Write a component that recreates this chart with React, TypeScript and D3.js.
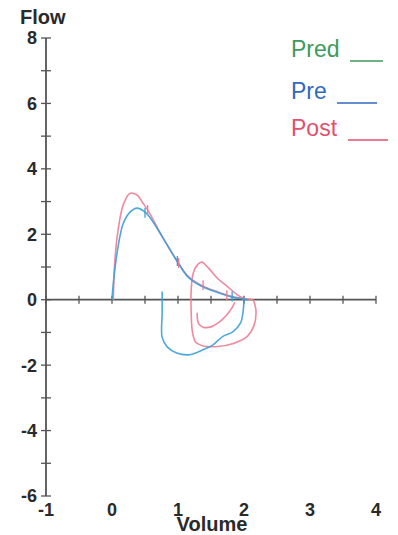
import React, { useEffect, useRef } from 'react';
import * as d3 from 'd3';

// volume (L), flow (L/s)
const preExp: [number, number][] = [
  [0.0, 0], [0.02, 0.5], [0.09, 1.6], [0.17, 2.33], [0.27, 2.67], [0.38, 2.8], [0.5, 2.68],
  [0.58, 2.5], [0.77, 1.9], [0.98, 1.2], [1.15, 0.7], [1.35, 0.42], [1.6, 0.22],
  [1.82, 0.08], [2.0, 0.02], [2.05, 0]
];
const preInsp: [number, number][] = [
  [2.0, 0], [1.99, -0.3], [1.95, -0.7], [1.83, -0.98], [1.68, -1.12], [1.53, -1.38],
  [1.38, -1.53], [1.18, -1.68], [0.98, -1.63], [0.84, -1.45], [0.76, -1.15], [0.76, -0.4], [0.76, 0.25]
];
const postExp: [number, number][] = [
  [0.02, 0], [0.04, 1.1], [0.09, 2.1], [0.17, 2.9], [0.27, 3.25], [0.38, 3.2], [0.47, 2.95],
  [0.56, 2.68], [0.77, 1.9], [0.98, 1.2], [1.15, 0.72], [1.35, 0.44], [1.6, 0.24],
  [1.85, 0.08], [2.05, 0.02], [2.14, 0]
];
const postInsp: [number, number][] = [
  [2.14, 0], [2.18, -0.3], [2.15, -0.8], [2.05, -1.12], [1.85, -1.33], [1.6, -1.43],
  [1.4, -1.42], [1.27, -1.3], [1.22, -1.0], [1.2, -0.4], [1.2, 0.3], [1.23, 0.8],
  [1.3, 1.08], [1.36, 1.15], [1.47, 0.95], [1.6, 0.65], [1.75, 0.4], [1.9, 0.15], [2.02, 0.02]
];
const postInner: [number, number][] = [
  [1.29, -0.4], [1.31, -0.72], [1.38, -0.84], [1.5, -0.83], [1.63, -0.68],
  [1.74, -0.46], [1.82, -0.24], [1.86, -0.08]
];
const preMarks: [number, number][] = [[0.5, 2.66], [0.99, 1.18], [1.82, 0.1]];
const postMarks: [number, number][] = [[0.54, 2.74], [1.01, 1.12], [1.38, 0.44], [1.74, 0.14]];

const xTicks = d3.range(-1, 4.01, 0.5);
const xLabels = [-1, 0, 1, 2, 3, 4];
const yTicks = d3.range(-6, 8.01, 1);
const yLabels = [8, 6, 4, 2, 0, -2, -4, -6];

const legend = [
  { name: 'Pred', color: '#3d9a5c', line: [350, 383] },
  { name: 'Pre', color: '#3069c0', line: [337, 377] },
  { name: 'Post', color: '#e2506f', line: [348, 388] },
];

export default function App() {
  const ref = useRef<SVGSVGElement>(null);

  useEffect(() => {
    document.body.style.margin = '0';
    const svg = d3.select(ref.current);
    svg.selectAll('*').remove();

    const x = d3.scaleLinear().domain([-1, 4]).range([46, 376]);
    const y = d3.scaleLinear().domain([-6, 8]).range([496, 38]);
    const font = 'Arial, "Liberation Sans", sans-serif';
    const axisColor = '#555';

    // axes
    svg.append('line')
      .attr('x1', x(-1)).attr('x2', x(-1)).attr('y1', y(8)).attr('y2', y(-6))
      .attr('stroke', axisColor).attr('stroke-width', 1.8);
    svg.append('line')
      .attr('x1', x(-1)).attr('x2', x(4)).attr('y1', y(0)).attr('y2', y(0))
      .attr('stroke', axisColor).attr('stroke-width', 1.8);

    svg.append('g').selectAll('line').data(yTicks).join('line')
      .attr('x1', x(-1) - 5).attr('x2', x(-1) + 5)
      .attr('y1', d => y(d)).attr('y2', d => y(d))
      .attr('stroke', axisColor).attr('stroke-width', 1.3);
    svg.append('g').selectAll('line').data(xTicks).join('line')
      .attr('x1', d => x(d)).attr('x2', d => x(d))
      .attr('y1', y(0) - 4).attr('y2', y(0) + 4)
      .attr('stroke', axisColor).attr('stroke-width', 1.3);

    svg.append('g').selectAll('text').data(yLabels).join('text')
      .attr('x', 37).attr('y', d => y(d)).attr('dy', '0.36em')
      .attr('text-anchor', 'end')
      .style('font', `bold 18px ${font}`).attr('fill', '#2a2a2a')
      .text(d => d);
    svg.append('g').selectAll('text').data(xLabels).join('text')
      .attr('x', d => x(d)).attr('y', 516)
      .attr('text-anchor', 'middle')
      .style('font', `bold 18px ${font}`).attr('fill', '#2a2a2a')
      .text(d => d);

    svg.append('text').attr('x', 20).attr('y', 24)
      .style('font', `bold 20px ${font}`).attr('fill', '#2a2a2a').text('Flow');
    svg.append('text').attr('x', 212).attr('y', 531).attr('text-anchor', 'middle')
      .style('font', `bold 20px ${font}`).attr('fill', '#2a2a2a').text('Volume');

    // loops
    const line = d3.line<[number, number]>()
      .x(d => x(d[0])).y(d => y(d[1]))
      .curve(d3.curveCatmullRom.alpha(0.5));

    const blue = '#3b9fd6';
    const pink = '#ec7c96';
    [[postExp, pink], [postInsp, pink], [postInner, pink], [preExp, blue], [preInsp, blue]]
      .forEach(([data, color]) => {
        svg.append('path').datum(data as [number, number][])
          .attr('d', line).attr('fill', 'none')
          .attr('stroke', color as string).attr('stroke-width', 1.6)
          .attr('stroke-opacity', 0.9);
      });

    [[preMarks, blue], [postMarks, pink]].forEach(([marks, color]) => {
      svg.append('g').selectAll('line').data(marks as [number, number][]).join('line')
        .attr('x1', d => x(d[0])).attr('x2', d => x(d[0]))
        .attr('y1', d => y(d[1]) - 5).attr('y2', d => y(d[1]) + 5)
        .attr('stroke', color as string).attr('stroke-width', 1.3);
    });

    // legend
    const lg = svg.append('g').selectAll('g').data(legend).join('g')
      .attr('transform', (d, i) => `translate(0, ${[57, 99, 136][i]})`);
    lg.append('text').attr('x', 291).attr('y', 0)
      .style('font', `23px ${font}`).attr('fill', d => d.color).text(d => d.name);
    lg.append('line')
      .attr('x1', d => d.line[0]).attr('x2', d => d.line[1]).attr('y1', 4).attr('y2', 4)
      .attr('stroke', d => d.color).attr('stroke-width', 1.6);
  }, []);

  return <svg ref={ref} width={398} height={535} style={{ display: 'block', background: '#fff' }} />;
}
